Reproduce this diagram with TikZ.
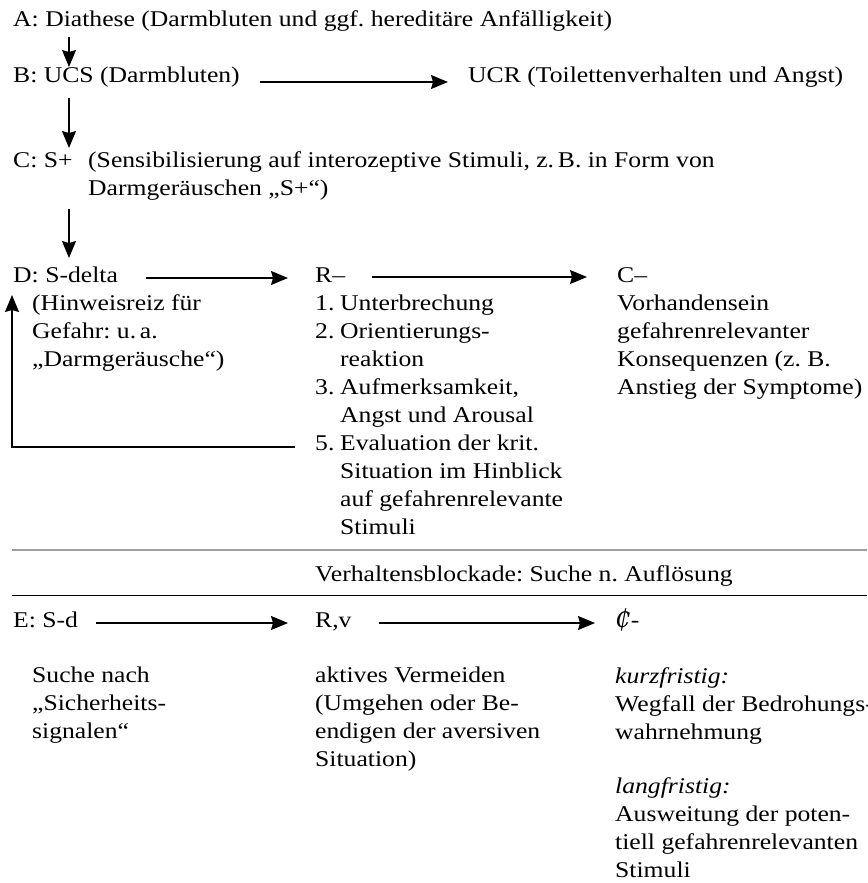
\documentclass[tikz,border=0pt]{standalone}
\usepackage{fontspec}
\setmainfont{Liberation Serif}[FakeStretch=1.14]
\newfontfamily\cedifont{DejaVu Serif}[Scale=1.1]
\usetikzlibrary{arrows.meta}

\begin{document}
\begin{tikzpicture}[x=1pt, y=-1pt,
    entry/.style={
        anchor=base west, inner sep=0pt,
        align=left, font=\fontsize{22.5}{28}\selectfont\frenchspacing
    },
    arrow/.style={-{Stealth[length=17pt, width=14pt, inset=2pt]}, line width=1.3pt}
]
  \useasboundingbox (0,0) rectangle (867,883);

  % Conditioning chain (multi-line nodes sit on their last baseline)
  \node[entry] (diathese) at (13,27) {A: Diathese (Darmbluten und ggf. hereditäre Anfälligkeit)};
  \node[entry] (ucs) at (13,82) {B: UCS (Darmbluten)};
  \node[entry] (ucr) at (468,82) {UCR (Toilettenverhalten und Angst)};
  \node[entry] (splus) at (13,167) {C: S+};
  \node[entry] (splustext) at (88,195) {(Sensibilisierung auf interozeptive Stimuli, z.\,B. in Form von\\Darmgeräuschen „S+“)};

  % Danger row
  \node[entry] (sdelta) at (13,282) {D: S-delta};
  \node[entry] (sdeltatext) at (32,366) {(Hinweisreiz für\\Gefahr: u.\,a.\\„Darmgeräusche“)};
  \node[entry] (rminus) at (315,282) {R–};
  \node[entry] (rlist) at (315,534) {\makebox[25pt][l]{1.}Unterbrechung\\
      \makebox[25pt][l]{2.}Orientierungs-\\\hspace*{25pt}reaktion\\
      \makebox[25pt][l]{3.}Aufmerksamkeit,\\\hspace*{25pt}Angst und Arousal\\
      \makebox[25pt][l]{5.}Evaluation der krit.\\\hspace*{25pt}Situation im Hinblick\\
      \hspace*{25pt}auf gefahrenrelevante\\\hspace*{25pt}Stimuli};
  \node[entry] (cminus) at (617,282) {C–};
  \node[entry] (cminustext) at (617,394) {Vorhandensein\\gefahrenrelevanter\\Konsequenzen (z. B.\\Anstieg der Symptome)};

  \node[entry] (blockade) at (315,581) {Verhaltensblockade: Suche n. Auflösung};

  % Avoidance row
  \node[entry] (sd) at (13,627) {E: S-d};
  \node[entry] (sdtext) at (32,738) {Suche nach\\„Sicherheits-\\signalen“};
  \node[entry] (rv) at (315,627) {R,v};
  \node[entry] (rvtext) at (315,766) {aktives Vermeiden\\(Umgehen oder Be-\\endigen der aversiven\\Situation)};
  \node[entry] (cstroke) at (615,627) {{\cedifont\itshape ₵}-};
  \node[entry] (cstroketext) at (615,877) {\textit{kurzfristig:}\\Wegfall der Bedrohungs-\\wahrnehmung\\[26pt]
      \textit{langfristig:}\\Ausweitung der poten-\\tiell gefahrenrelevanten\\Stimuli};

  % Arrows
  \draw[arrow] ([shift={(56,10)}]diathese.base west) -- ([shift={(56,-15)}]ucs.base west);
  \draw[arrow] ([shift={(56,16)}]ucs.base west) -- ([shift={(56,-19)}]splus.base west);
  \draw[arrow] ([shift={(56,42)}]splus.base west) -- ([shift={(56,-24)}]sdelta.base west);
  \draw[arrow] ([shift={(20,0)}]ucs.base east) -- ([shift={(-20,0)}]ucr.base west);
  \draw[arrow] ([shift={(28,-4)}]sdelta.base east) -- ([shift={(-27,-4)}]rminus.base west);
  \draw[arrow] ([shift={(27,-5)}]rminus.base east) -- ([shift={(-30,-5)}]cminus.base west);
  \draw[arrow] ([shift={(18,-4)}]sd.base east) -- ([shift={(-27,-4)}]rv.base west);
  \draw[arrow] ([shift={(27,-4)}]rv.base east) -- ([shift={(-20,-4)}]cstroke.base west);

  % Feedback from evaluation back to S-delta
  \draw[arrow] ([shift={(-20,-87)}]rlist.base west) -| ([shift={(-20,-71)}]sdeltatext.base west);

  % Separators
  \draw[gray!75, line width=1.6pt] (12,550) -- (867,550);
  \draw[line width=1pt] (12,595) -- (867,595);
\end{tikzpicture}
\end{document}
